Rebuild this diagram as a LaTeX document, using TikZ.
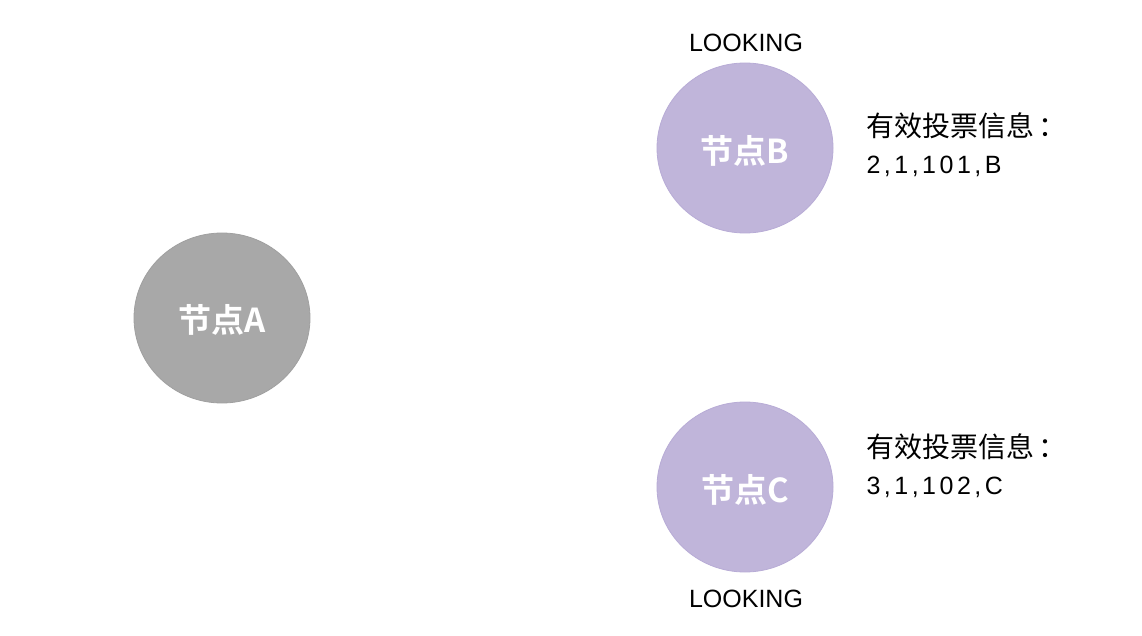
\documentclass[tikz,border=0pt]{standalone}
\usepackage{fontspec}
\usetikzlibrary{shapes.geometric}
\setmainfont{Liberation Sans}
\newfontfamily\cjk{Noto Sans CJK SC}
\newfontfamily\cjkb{Noto Sans CJK SC Bold}
\newfontfamily\digits[LetterSpace=14]{Liberation Sans}
\definecolor{graynode}{HTML}{A8A8A8}
\definecolor{graybord}{HTML}{A0A0A0}
\definecolor{lav}{HTML}{C0B5DA}
\definecolor{lavbord}{HTML}{B8ACD6}
\begin{document}
\begin{tikzpicture}[x=1pt,y=-1pt,
  nodecirc/.style={ellipse, minimum width=176pt, minimum height=170pt, inner sep=0pt, line width=0.8pt},
  nodetext/.style={text=white, font=\cjkb\fontsize{33}{38}\selectfont},
  statelbl/.style={font=\fontsize{25}{28}\selectfont},
  infolbl/.style={align=left, font=\fontsize{28}{40}\selectfont}
]
\useasboundingbox[fill=white] (0,0) rectangle (1142,636);
\node[nodecirc, fill=graynode, draw=graybord] (A) at (222,318) {};
\node[nodetext] (At) at (222,320) {节点A};
\node[nodecirc, fill=lav, draw=lavbord] (B) at (745,148) {};
\node[nodetext] (Bt) at (745,151) {节点B};
\node[nodecirc, fill=lav, draw=lavbord] (C) at (745,487) {};
\node[nodetext] (Ct) at (745,490) {节点C};
\node[statelbl] (BL) at (746,43) {LOOKING};
\node[statelbl] (CL) at (746,599) {LOOKING};
\node[infolbl, anchor=north west] (Bi) at (863,109) {{\cjk 有效投票信息\hspace{4pt}：}\\[-3pt]{\digits\fontsize{25}{28}\selectfont 2,1,101,B}};
\node[infolbl, anchor=north west] (Ci) at (863,430) {{\cjk 有效投票信息\hspace{4pt}：}\\[-3pt]{\digits\fontsize{25}{28}\selectfont 3,1,102,C}};
\end{tikzpicture}
\end{document}
